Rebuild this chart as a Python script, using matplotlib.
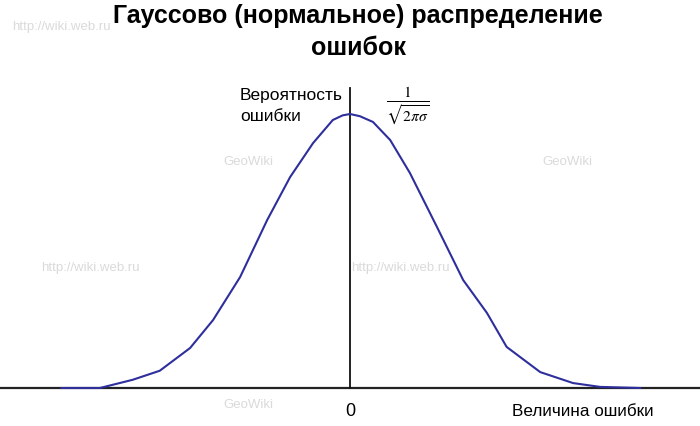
import numpy as np
import matplotlib.pyplot as plt

# значения кривой (x в единицах sigma, y - доля от максимума)
err_x = [-3.52, -3.05, -2.65, -2.32, -1.95, -1.67, -1.34, -1.01, -0.73, -0.45, -0.21, -0.09, 0.0,
         0.12, 0.28, 0.49, 0.73, 1.06, 1.38, 1.67, 1.91, 2.32, 2.72, 3.05, 3.54]
prob_y = [0.0, 0.0, 0.03, 0.063, 0.146, 0.248, 0.405, 0.613, 0.77, 0.894, 0.978, 0.995, 1.0,
          0.992, 0.971, 0.905, 0.785, 0.588, 0.394, 0.274, 0.15, 0.058, 0.018, 0.004, 0.0]

title = 'Гауссово (нормальное) распределение\nошибок'
ylabel = 'Вероятность\nошибки'
xlabel = 'Величина ошибки'
watermark_url = 'http://wiki.web.ru'
watermark_geo = 'GeoWiki'

W, H = 700, 426
plt.rcParams['font.family'] = ['Liberation Sans', 'DejaVu Sans']
plt.rcParams['mathtext.fontset'] = 'stix'

fig = plt.figure(figsize=(7, 4.26), dpi=100)
ax = fig.add_axes([0, 0, 1, 1])
ax.set_xlim(-350 / 82, 350 / 82)
ax.set_ylim(-38 / 274, 388 / 274)
ax.axis('off')


def ftext(px, py, s, **kw):
    """Текст в пиксельных координатах картинки"""
    ax.text(px / W, 1 - py / H, s, transform=fig.transFigure, **kw)


# водяные знаки (под линиями)
wm = dict(color='#dadada', fontsize=9.5, va='center', zorder=0)
ftext(12, 27, watermark_url, ha='left', **wm)
for px, py in [(90, 268), (400, 268)]:
    ftext(px, py, watermark_url, ha='center', **wm)
for px, py in [(248, 162), (567, 162), (248, 405)]:
    ftext(px, py, watermark_geo, ha='center', **wm)

# оси
ax.axhline(0, color='#222222', lw=1.6, zorder=2)
ax.plot([0, 0], [0, 300 / 274], color='#111111', lw=1.3, zorder=2)

# кривая
ax.plot(err_x, prob_y, color='#2e2e9c', lw=1.5, zorder=3)

ftext(358, 32, title, fontsize=18, fontweight='bold', ha='center', va='center',
      linespacing=1.45, zorder=4)
ftext(240, 106, ylabel, fontsize=12.5, ha='left', va='center', linespacing=1.5, zorder=4)
ftext(408, 106, r'$\frac{1}{\sqrt{2\pi\sigma}}$', fontsize=16, ha='center', va='center', zorder=4)
ftext(350, 411, '0', fontsize=13, ha='center', va='center', zorder=4)
ftext(583, 411, xlabel, fontsize=12.3, ha='center', va='center', zorder=4)

fig.savefig('out.png', dpi=100, facecolor='white')
